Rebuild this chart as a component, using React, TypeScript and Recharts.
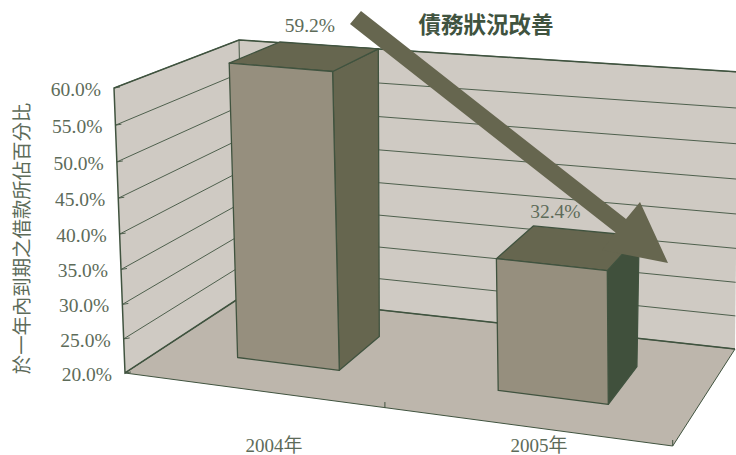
import { Bar, BarChart, CartesianGrid, LabelList, ReferenceArea, XAxis, YAxis } from "recharts"

const years = ["2004年", "2005年"]
const dueWithinOneYear = [59.2, 32.4]
const valueTicks = [20, 25, 30, 35, 40, 45, 50, 55, 60]

const chartTitle = "債務狀況改善"
const axisTitle = "於一年內到期之借款所佔百分比"

const WIDTH = 736
const HEIGHT = 455
const PLOT_LEFT = 141.5
const PLOT_TOP = 88
const PLOT_WIDTH = 530
const PLOT_HEIGHT = 285

const INK = "#40533f"
const TEXT = "#5d6b59"
const WALL = "#cfcac3"
const FLOOR = "#bdb6ac"
const BOX_FRONT = "#968f7e"
const BOX_TOP = "#66664f"
const sideFills = ["#66664f", "#40503c"]
const FONT = '"Liberation Serif", "Noto Sans CJK TC", serif'

// corners of the room on screen: [x, y] for front/back, left/right, bottom/top
const FLB = [125, 373]
const FLT = [114, 88]
const FRB = [672.7, 446]
const FRT = [670, 139]
const BLB = [244, 295]
const BLT = [239, 40]
const BRB = [735, 349]
const BRT = [738, 72]

const BOX_FRONT_DEPTH = 0.32
const BOX_BACK_DEPTH = 0.72
const BOX_TOP_BACK_DEPTH = 0.75

const mix = (a: number[], b: number[], t: number) => [a[0] + (b[0] - a[0]) * t, a[1] + (b[1] - a[1]) * t]

// u: along the categories, h: up the value axis, w: into the room
function project(u: number, h: number, w: number) {
  const across = u - 0.08 * u * (1 - u)
  const bottom = mix(mix(FLB, FRB, across), mix(BLB, BRB, across), w)
  const top = mix(mix(FLT, FRT, across), mix(BLT, BRT, across), w)
  return mix(bottom, top, h)
}

const toPoints = (pts: number[][]) => pts.map((p) => `${p[0].toFixed(1)},${p[1].toFixed(1)}`).join(" ")

// foreshortening of the value scale on the walls
const wallHeight = (y: number) => {
  const v = (PLOT_TOP + PLOT_HEIGHT - y) / PLOT_HEIGHT
  return v - 0.05 * v * (1 - v)
}

// boxes stand well in front of the back wall, so they read taller than the wall scale
const boxHeight = (y: number) => {
  const v = (PLOT_TOP + PLOT_HEIGHT - y) / PLOT_HEIGHT
  return 0.1765 + 0.8985 * v
}

function Room() {
  const flb = project(0, 0, 0)
  const frb = project(1, 0, 0)
  const blb = project(0, 0, 1)
  const brb = project(1, 0, 1)
  const flt = project(0, 1, 0)
  const blt = project(0, 1, 1)
  const brt = project(1, 1, 1)
  const mid = project(0.5, 0, 0)
  return (
    <g>
      <polygon points={toPoints([flb, blb, brb, frb])} fill={FLOOR} />
      <polygon points={toPoints([flb, flt, blt, blb])} fill={WALL} />
      <polygon points={toPoints([blb, blt, brt, brb])} fill={WALL} />
      <polyline points={toPoints([blb, flb, flt, blt, brt])} fill="none" stroke={INK} strokeWidth={1.5} />
      <line x1={blt[0]} y1={blt[1]} x2={blb[0]} y2={blb[1]} stroke={INK} strokeWidth={1} />
      <line x1={blb[0]} y1={blb[1]} x2={brb[0]} y2={brb[1]} stroke={INK} strokeWidth={1.5} />
      <polyline points={toPoints([flb, frb, brb])} fill="none" stroke={INK} strokeWidth={1} />
      <line x1={mid[0] - 3} y1={mid[1]} x2={mid[0] - 3} y2={mid[1] - 6} stroke={INK} strokeWidth={1} />
      <line x1={frb[0]} y1={frb[1]} x2={frb[0]} y2={frb[1] - 6} stroke={INK} strokeWidth={1} />
    </g>
  )
}

function WallLine(props: any) {
  const h = wallHeight(props.y1)
  const a = project(0, h, 0)
  const b = project(0, h, 1)
  const c = project(1, h, 1)
  return (
    <g key={props.key ?? props.index}>
      <polyline points={toPoints([a, b, c])} fill="none" stroke={INK} strokeWidth={0.9} />
      <line x1={a[0]} y1={a[1]} x2={a[0] + 6} y2={a[1] - 1} stroke={INK} strokeWidth={0.9} />
    </g>
  )
}

function ValueTick(props: any) {
  const { y, payload } = props
  const edge = project(0, wallHeight(y), 0)
  return (
    <text x={edge[0] - 13} y={edge[1] + 8} textAnchor="end" fill={TEXT} fontSize={19.5} fontFamily={FONT}>
      {`${payload.value.toFixed(1)}%`}
    </text>
  )
}

function Box(props: any) {
  const { x, y, width, height, index } = props
  const u0 = (x - PLOT_LEFT) / PLOT_WIDTH
  const u1 = (x + width - PLOT_LEFT) / PLOT_WIDTH
  const top = boxHeight(y)
  const base = boxHeight(y + height) - 0.1765
  const fl0 = project(u0, base, BOX_FRONT_DEPTH)
  const fr0 = project(u1, base, BOX_FRONT_DEPTH)
  const br0 = project(u1, base, BOX_BACK_DEPTH)
  const fl1 = project(u0, top, BOX_FRONT_DEPTH)
  const fr1 = project(u1, top, BOX_FRONT_DEPTH)
  const br1 = project(u1, top, BOX_TOP_BACK_DEPTH)
  const bl1 = project(u0, top, BOX_TOP_BACK_DEPTH)
  return (
    <g stroke={INK} strokeWidth={1.3} strokeLinejoin="round">
      <polygon points={toPoints([fr0, br0, br1, fr1])} fill={sideFills[index]} />
      <polygon points={toPoints([fl1, fr1, br1, bl1])} fill={BOX_TOP} />
      <polygon points={toPoints([fl0, fr0, fr1, fl1])} fill={BOX_FRONT} />
    </g>
  )
}

const labelShift = [
  { dx: 7, dy: -25 },
  { dx: -12, dy: -31 },
]

function BoxLabel(props: any) {
  const { x, y, width, value, index } = props
  const u = (x + width / 2 - PLOT_LEFT) / PLOT_WIDTH
  const anchor = project(u, boxHeight(y), (BOX_FRONT_DEPTH + BOX_BACK_DEPTH) / 2)
  return (
    <text
      x={anchor[0] + labelShift[index].dx}
      y={anchor[1] + labelShift[index].dy}
      textAnchor="middle"
      fill={TEXT}
      fontSize={19.5}
      fontFamily={FONT}
    >
      {`${value}%`}
    </text>
  )
}

// the falling trend arrow and the headline, laid over the whole chart
function Headline() {
  return (
    <svg width={WIDTH} height={HEIGHT} style={{ position: "absolute", left: 0, top: 0, pointerEvents: "none" }}>
      <polygon
        points="350,24 361,11 626,219 640,202 668,263 602,250 615.5,232.6"
        fill={BOX_TOP}
      />
      <text x={486} y={33} textAnchor="middle" fill={INK} fontSize={22.5} fontWeight="bold" fontFamily={FONT}>
        {chartTitle}
      </text>
    </svg>
  )
}

const rows = years.map((year, i) => ({ year, share: dueWithinOneYear[i] }))

export default function App() {
  return (
    <div style={{ position: "absolute", left: 0, top: 0, width: WIDTH, height: HEIGHT, overflow: "hidden" }}>
      <BarChart
        width={WIDTH}
        height={HEIGHT}
        data={rows}
        margin={{ top: PLOT_TOP, right: WIDTH - PLOT_LEFT - PLOT_WIDTH, bottom: 0, left: 0 }}
      >
        <ReferenceArea y1={20} y2={60} shape={<Room />} zIndex={-200} ifOverflow="visible" />
        <CartesianGrid vertical={false} horizontal={WallLine} />
        <XAxis
          dataKey="year"
          height={HEIGHT - PLOT_TOP - PLOT_HEIGHT}
          axisLine={false}
          tickLine={false}
          tickMargin={60}
          tick={{ fill: TEXT, fontSize: 19, fontFamily: FONT }}
        />
        <YAxis
          width={PLOT_LEFT}
          domain={[20, 60]}
          ticks={valueTicks}
          interval={0}
          axisLine={false}
          tickLine={false}
          tick={<ValueTick />}
          label={{
            value: axisTitle,
            angle: -90,
            position: "insideLeft",
            offset: 22,
            dy: 8,
            style: { fill: TEXT, fontSize: 19.4, fontFamily: FONT, textAnchor: "middle" },
          }}
        />
        <Bar dataKey="share" barSize={106} shape={<Box />} isAnimationActive={false}>
          <LabelList dataKey="share" content={<BoxLabel />} />
        </Bar>
      </BarChart>
      <Headline />
    </div>
  )
}
